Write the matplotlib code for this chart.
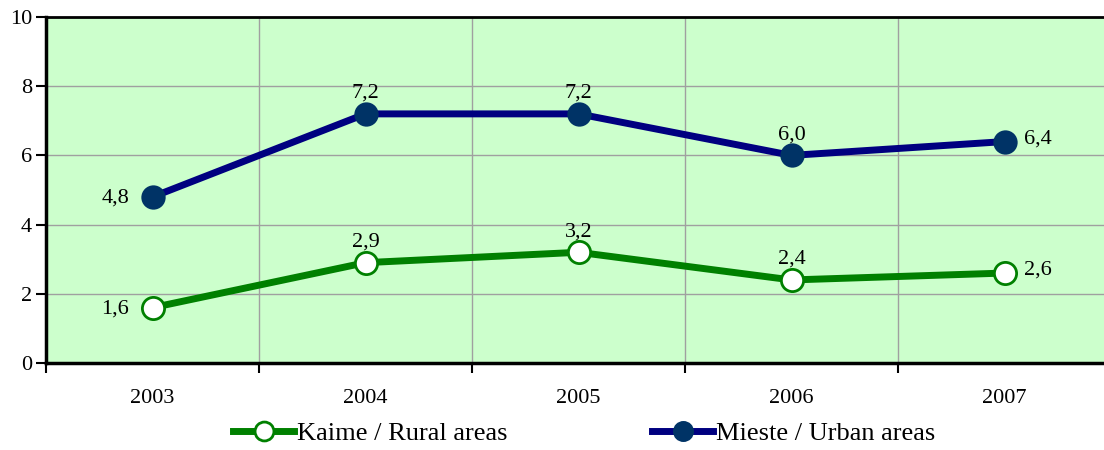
import matplotlib
matplotlib.use("Agg")
import matplotlib.pyplot as plt
from matplotlib.ticker import FixedLocator

years = ["2003", "2004", "2005", "2006", "2007"]
rural = [1.6, 2.9, 3.2, 2.4, 2.6]
urban = [4.8, 7.2, 7.2, 6.0, 6.4]
rural_name = "Kaime / Rural areas"
urban_name = "Mieste / Urban areas"
rural_pos = ["left", "above", "above", "above", "right"]
urban_pos = ["left", "above", "above", "above", "right"]

plt.rcParams['font.family'] = ['Liberation Serif', 'DejaVu Serif']

fig = plt.figure(figsize=(11.04, 4.5), dpi=100)
ax = fig.add_axes([46/1104, 1-363/450, 1065/1104, 346/450])
ax.set_facecolor("#CCFFCC")

x = list(range(len(years)))
ax.plot(x, rural, color="#008000", lw=5, marker="o", ms=16,
        mfc="white", mec="#008000", mew=2, label=rural_name, zorder=3)
ax.plot(x, urban, color="#000080", lw=5, marker="o", ms=16,
        mfc="#003366", mec="#003366", mew=1.5, label=urban_name, zorder=3)

def label(xs, ys, poss):
    for xi, yi, p in zip(xs, ys, poss):
        txt = f"{yi:.1f}".replace(".", ",")
        if p == "left":
            ax.annotate(txt, (xi, yi), xytext=(-17, -1), textcoords="offset points",
                        ha="right", va="center", fontsize=16)
        elif p == "right":
            ax.annotate(txt, (xi, yi), xytext=(14, 2), textcoords="offset points",
                        ha="left", va="center", fontsize=16)
        else:
            ax.annotate(txt, (xi, yi), xytext=(0, 8), textcoords="offset points",
                        ha="center", va="bottom", fontsize=16)

label(x, rural, rural_pos)
label(x, urban, urban_pos)

ax.set_xlim(-0.5, len(years) - 0.5)
ax.set_ylim(0, 10)
ax.set_yticks([0, 2, 4, 6, 8, 10])
ax.tick_params(axis="y", direction="out", length=7, width=1.5, labelsize=16, pad=3)
ax.set_xticks(x)
ax.set_xticklabels(years)
ax.tick_params(axis="x", which="major", length=0, labelsize=16, pad=19)
ax.xaxis.set_minor_locator(FixedLocator([i - 0.5 for i in range(len(years) + 1)]))
ax.tick_params(axis="x", which="minor", direction="out", length=7, width=1.5)

ax.grid(axis="y", color="#A0A0A0", lw=1)
ax.grid(axis="x", which="minor", color="#A0A0A0", lw=1)
ax.set_axisbelow(True)

for s in ["left", "bottom"]:
    ax.spines[s].set_linewidth(2.5)
ax.spines["top"].set_linewidth(2)
ax.spines["right"].set_visible(False)

fig.legend(loc="lower center", bbox_to_anchor=(0.529, -0.042), ncol=2, frameon=False,
           fontsize=19, columnspacing=5.5, handlelength=2.3, handletextpad=0.1,
           markerscale=0.85)

fig.savefig("out.png", dpi=100)
